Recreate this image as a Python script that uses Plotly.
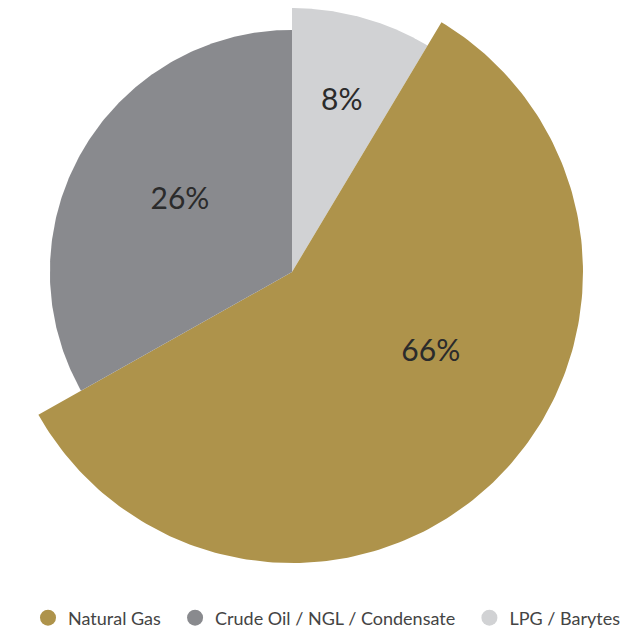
import numpy as np
import plotly.graph_objects as go

# ---- data -------------------------------------------------------------
categories = ["Natural Gas", "Crude Oil / NGL / Condensate", "LPG / Barytes"]
shares = [66, 26, 8]                 # percent of total
radius_scale = [1.0, 0.832, 0.907]   # relative outer radius of each slice
label_text = ["66%", "26%", "8%"]

# ---- styling ----------------------------------------------------------
colors = ["#AE934B", "#898A8E", "#D1D2D4"]
draw_order = [2, 0, 1]               # clockwise from 12 o'clock
CX, CY, R_MAX = 292, 272, 291        # centre and largest radius (px)
label_angle_shift = [-17.0, 3.5, 0.5]
label_radius_frac = [0.544, 0.557, 0.687]
LABEL_DY = 5                         # nudge text baseline down (px)
W, H = 629, 630

# Slice area is proportional to its share: sweep ~ share / radius^2
weights = np.array(shares, float) / np.array(radius_scale) ** 2
sweeps = 360.0 * weights / weights.sum()

fig = go.Figure()

start = 0.0
for i in draw_order:
    end = start + sweeps[i]
    r = R_MAX * radius_scale[i]
    th = np.radians(np.linspace(start, end, 200))
    xs = np.concatenate([[CX], CX + r * np.sin(th), [CX]])
    ys = np.concatenate([[CY], CY - r * np.cos(th), [CY]])
    fig.add_trace(go.Scatter(
        x=xs, y=ys, mode="lines", fill="toself",
        fillcolor=colors[i], line=dict(width=0, color=colors[i]),
        hoverinfo="skip", showlegend=False,
    ))
    mid = np.radians((start + end) / 2 + label_angle_shift[i])
    d = r * label_radius_frac[i]
    fig.add_trace(go.Scatter(
        x=[CX + d * np.sin(mid)], y=[CY - d * np.cos(mid) + LABEL_DY],
        mode="text", text=[label_text[i]], textposition="middle center",
        textfont=dict(family="Lato, sans-serif", size=30, color="#2B2B2B"),
        hoverinfo="skip", showlegend=False,
    ))
    start = end

# legend entries (trailing no-break spaces widen the gap between items)
for name, col in zip(categories, colors):
    fig.add_trace(go.Scatter(
        x=[None], y=[None], mode="markers", name=name + "\u00a0\u00a0",
        marker=dict(symbol="circle", size=18, color=col),
    ))

fig.update_layout(
    width=W, height=H,
    margin=dict(l=0, r=0, t=0, b=0, autoexpand=False),
    paper_bgcolor="white", plot_bgcolor="white",
    xaxis=dict(range=[0, W], visible=False, fixedrange=True),
    yaxis=dict(range=[H, 0], visible=False, fixedrange=True),
    legend=dict(
        orientation="h", x=28 / W, xanchor="left",
        y=(H - 618) / H, yanchor="middle",
        font=dict(family="Lato, sans-serif", size=18, color="#444444"),
        itemsizing="trace",
    ),
)

fig.write_html("out.html")
